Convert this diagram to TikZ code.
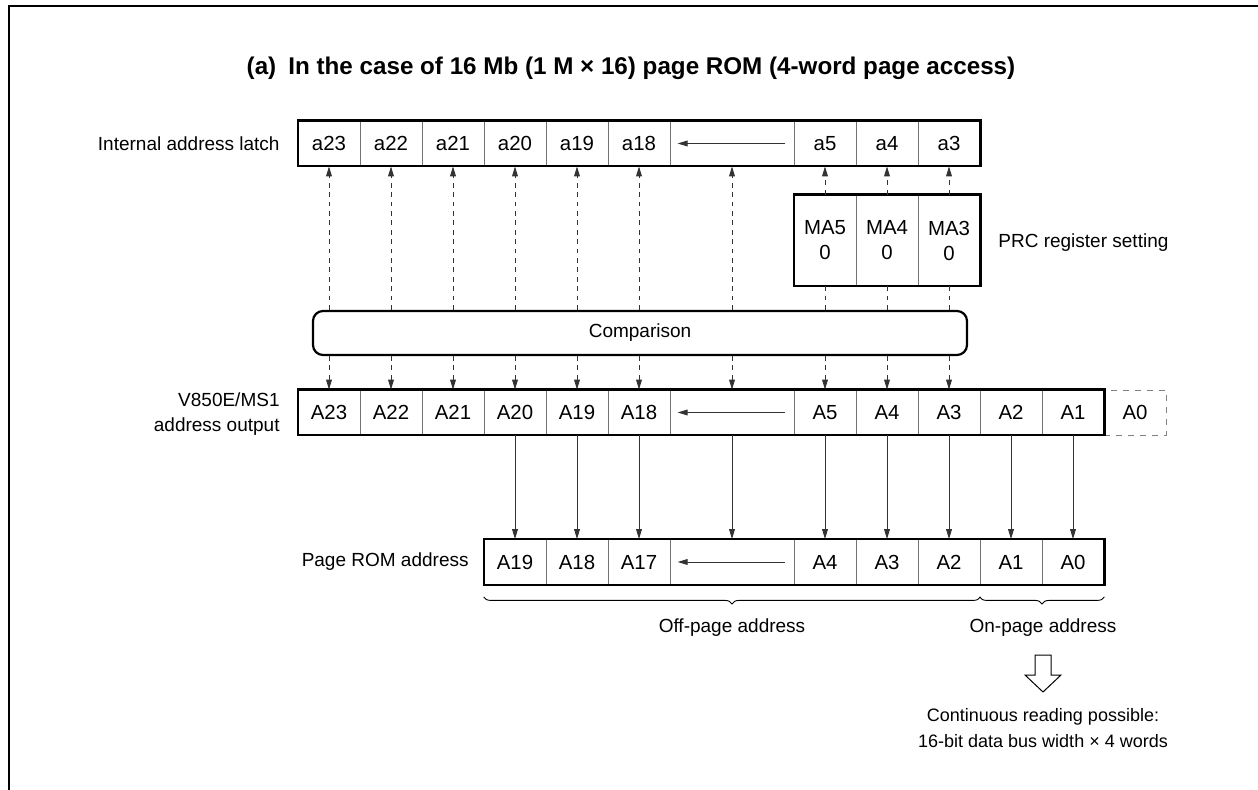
\documentclass[tikz,border=0pt]{standalone}
\usepackage{fontspec}
\setmainfont{Liberation Sans}
\usetikzlibrary{arrows.meta, decorations.pathreplacing}

\tikzset{
  cell/.style={draw=black!55, line width=0.4pt, inner sep=0pt,
    minimum width=31pt, minimum height=22.5pt, font=\fontsize{10.2}{12.5}\selectfont},
  rowbox/.style={draw, line width=1.1pt},
  tag/.style={inner sep=0pt, font=\fontsize{9.5}{12.5}\selectfont},
  dashline/.style={line width=0.45pt, black!80, dash pattern=on 2.4pt off 2.3pt},
  dasharrow/.style={dashline, ->},
  solidarrow/.style={line width=0.45pt, black!80, ->},
}

\begin{document}
\begin{tikzpicture}[x=0.5pt, y=-0.5pt, >={Triangle[length=5pt,width=2.9pt]}]
    \useasboundingbox (0,0) rectangle (1258,790);
    \draw[line width=1.3pt] (9,790) -- (9,6) -- (1258,6);

    \node[inner sep=0pt, font=\bfseries\fontsize{12.1}{14}\selectfont] (title) at (631,68)
        {(a)\enspace In the case of 16 Mb (1 M × 16) page ROM (4-word page access)};

    % internal address latch
    \foreach \t [count=\i from 0] in {23,22,21,20,19,18}
        \node[cell] (l\t) at (329+62*\i,143.5) {a\t};
    \node[cell, minimum width=62pt] (lgap) at (732,143.5) {};
    \foreach \t [count=\i from 0] in {5,4,3}
        \node[cell] (l\t) at (825+62*\i,143.5) {a\t};
    \draw[rowbox] (l23.north west) rectangle (l3.south east);
    \draw[solidarrow] ([xshift=-4.5pt]lgap.east) -- ([xshift=4pt]lgap.west);
    \node[tag, anchor=east] (llab) at (280,143.5) {Internal address latch};

    % PRC register
    \foreach \t [count=\i from 0] in {5,4,3}
        \node[cell, minimum height=45.5pt, align=center] (ma\t) at (825+62*\i,240.5) {MA\t\\0};
    \draw[rowbox] (ma5.north west) rectangle (ma3.south east);
    \node[tag, anchor=west] (malab) at (998,243) {PRC register setting};

    \node[draw, line width=1.1pt, rounded corners=5pt, minimum width=327pt, minimum height=22pt,
        font=\fontsize{9.5}{12.5}\selectfont] (cmp) at (640,333) {Comparison};

    % V850E/MS1 address output
    \foreach \t [count=\i from 0] in {23,22,21,20,19,18}
        \node[cell] (o\t) at (329+62*\i,412.5) {A\t};
    \node[cell, minimum width=62pt] (ogap) at (732,412.5) {};
    \foreach \t [count=\i from 0] in {5,4,3,2,1}
        \node[cell] (o\t) at (825+62*\i,412.5) {A\t};
    \node[cell, dashed, draw=black!50] (o0) at (1135,412.5) {A0};
    \draw[rowbox] (o23.north west) rectangle (o1.south east);
    \draw[solidarrow] ([xshift=-4.5pt]ogap.east) -- ([xshift=4pt]ogap.west);
    \node[tag, anchor=east, align=right] (olab) at (280,414) {V850E/MS1\\address output};

    % page ROM address
    \foreach \t [count=\i from 0] in {19,18,17}
        \node[cell] (r\t) at (515+62*\i,562) {A\t};
    \node[cell, minimum width=62pt] (rgap) at (732,562) {};
    \foreach \t [count=\i from 0] in {4,3,2,1,0}
        \node[cell] (r\t) at (825+62*\i,562) {A\t};
    \draw[rowbox] (r19.north west) rectangle (r0.south east);
    \draw[solidarrow] ([xshift=-4.5pt]rgap.east) -- ([xshift=4pt]rgap.west);
    \node[tag, anchor=east] (rlab) at (469,562) {Page ROM address};

    % comparison links
    \foreach \n in {23,22,21,20,19,18,gap}
        \draw[dasharrow] (cmp.north -| l\n) -- (l\n.south);
    \foreach \n in {5,4,3} {
        \draw[dasharrow] (ma\n.north) -- (l\n.south);
        \draw[dashline] (cmp.north -| ma\n) -- (ma\n.south);
    }
    \foreach \n in {23,22,21,20,19,18,gap,5,4,3}
        \draw[dasharrow] (cmp.south -| o\n) -- (o\n.north);

    \foreach \a/\b in {20/19,19/18,18/17,gap/gap,5/4,4/3,3/2,2/1,1/0}
        \draw[solidarrow] (o\a.south) -- (r\b.north);

    % page split
    \draw[decorate, decoration={brace, mirror, amplitude=3.5pt}, line width=0.45pt]
        ([yshift=-6pt]r19.south west) -- ([yshift=-6pt]r2.south east);
    \draw[decorate, decoration={brace, mirror, amplitude=3.5pt}, line width=0.45pt]
        ([yshift=-6pt]r1.south west) -- ([yshift=-6pt]r0.south east);
    \node[tag] (offpg) at (732,628) {Off-page address};
    \node[tag] (onpg) at (1043,628) {On-page address};

    \draw[line width=0.5pt] (1035,655) -- (1051,655) -- (1051,675) -- (1061,675)
        -- (1043,692) -- (1025,675) -- (1035,675) -- cycle;
    \node[tag, align=center, font=\fontsize{9}{12.8}\selectfont] (note) at (1043,728)
        {Continuous reading possible:\\16-bit data bus width × 4 words};
\end{tikzpicture}
\end{document}
